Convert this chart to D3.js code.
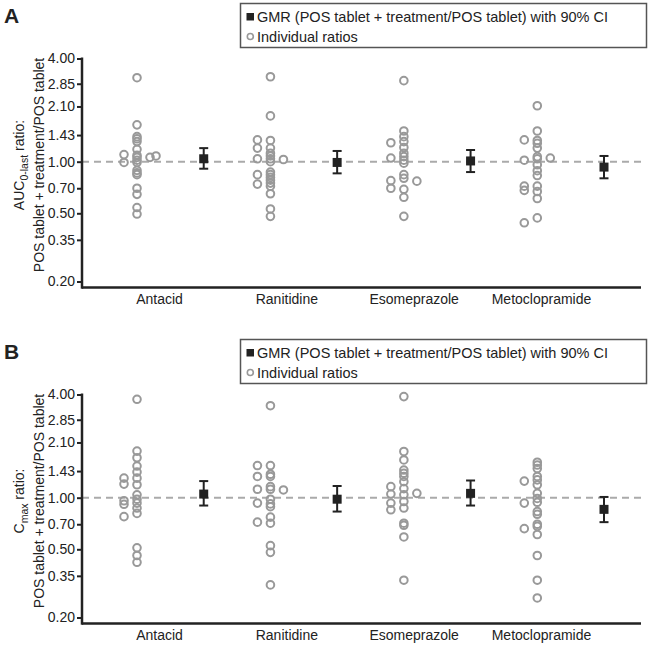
<!DOCTYPE html>
<html>
<head>
<meta charset="utf-8">
<script src="https://cdn.jsdelivr.net/npm/d3@7"></script>
<style>
  html, body { margin: 0; padding: 0; background: #fff; }
  svg { display: block; font-family: "Liberation Sans", Arial, sans-serif; }
</style>
</head>
<body>
<svg id="chart" width="650" height="648"></svg>
<script>
// ---------- data ----------
const categories = ["Antacid", "Ranitidine", "Esomeprazole", "Metoclopramide"];
const yTicks = [0.20, 0.35, 0.50, 0.70, 1.00, 1.43, 2.10, 2.85, 4.00];
const legendGMR = "GMR (POS tablet + treatment/POS tablet) with 90% CI";
const legendInd = "Individual ratios";

// Panel A: AUC0-last individual ratios (main column, left / right offsets)
const aucMid = [
  [3.09, 1.64, 1.40, 1.36, 1.31, 1.18, 1.09, 1.06, 1.02, 0.99, 0.89, 0.86, 0.84, 0.70, 0.645, 0.54, 0.495],
  [3.13, 1.85, 1.33, 1.20, 1.12, 1.08, 1.04, 1.00, 0.87, 0.84, 0.81, 0.78, 0.75, 0.72, 0.65, 0.53, 0.48],
  [2.97, 1.51, 1.40, 1.31, 1.21, 1.12, 1.07, 1.02, 0.98, 0.84, 0.80, 0.69, 0.62, 0.48],
  [2.12, 1.51, 1.33, 1.28, 1.20, 1.07, 1.04, 0.96, 0.886, 0.83, 0.72, 0.67, 0.61, 0.47]
];
const aucLeft = [
  [1.10, 0.99],
  [1.34, 1.20, 1.04, 0.84, 0.74],
  [1.29, 1.05, 0.775, 0.70],
  [1.34, 1.02, 0.72, 0.68, 0.44]
];
const aucRight = [[1.06], [1.03], [0.77], [1.05]];
const aucRight2 = [[1.08], [], [], []];
const aucGMR = [1.04, 0.99, 1.01, 0.93];
const aucLo  = [0.91, 0.855, 0.87, 0.80];
const aucHi  = [1.20, 1.155, 1.17, 1.08];

// Panel B: Cmax individual ratios
const cmaxMid = [
  [3.75, 1.87, 1.71, 1.53, 1.41, 1.30, 1.19, 1.04, 0.98, 0.93, 0.87, 0.81, 0.51, 0.46, 0.42],
  [3.44, 1.54, 1.37, 1.33, 1.16, 1.12, 0.98, 0.92, 0.886, 0.77, 0.71, 0.525, 0.48, 0.31],
  [3.89, 1.86, 1.66, 1.45, 1.39, 1.33, 1.24, 1.13, 1.04, 0.95, 0.87, 0.71, 0.69, 0.59, 0.33],
  [1.61, 1.55, 1.48, 1.33, 1.27, 1.19, 1.06, 0.99, 0.94, 0.83, 0.80, 0.70, 0.68, 0.61, 0.46, 0.33, 0.26]
];
const cmaxLeft = [
  [1.30, 1.20, 0.96, 0.915, 0.775],
  [1.54, 1.33, 1.12, 0.93, 0.72],
  [1.16, 1.05, 0.93, 0.85],
  [1.25, 0.93, 0.66]
];
const cmaxRight = [[], [1.11], [1.06], []];
const cmaxRight2 = [[], [], [], []];
const cmaxGMR = [1.05, 0.98, 1.06, 0.855];
const cmaxLo  = [0.90, 0.83, 0.90, 0.72];
const cmaxHi  = [1.25, 1.17, 1.26, 1.01];

// ---------- drawing ----------
const svg = d3.select("#chart");
const axisX0 = 82, axisX1 = 641;
const textColor = "#222";
const ptColor = "#999";

// x positions: index 2i = individual column, 2i+1 = GMR
const x = d3.scaleLinear().domain([0, 7]).range([137, 604]);
const xLab = d3.scalePoint().domain(categories).range([159, 541]);

function drawPanel(off, letter, titleMain, titleSub, titleRest, mid, left, right, right2, gmr, lo, hi) {
  const g = svg.append("g").attr("transform", `translate(0,${off})`);
  const y = d3.scaleLog().domain([0.2, 4]).range([281.5, 58.5]);
  const baseY = 287.5;

  // panel letter
  g.append("text").attr("x", 4).attr("y", 23).attr("font-size", 21).attr("font-weight", "bold")
    .attr("fill", textColor).text(letter);

  // legend
  const lg = g.append("g");
  lg.append("rect").attr("x", 240.5).attr("y", 3.5).attr("width", 406).attr("height", 44)
    .attr("fill", "#fff").attr("stroke", "#555").attr("stroke-width", 1.5);
  lg.append("rect").attr("x", 246.5).attr("y", 13).attr("width", 7.5).attr("height", 7.5).attr("fill", "#222");
  lg.append("text").attr("x", 257).attr("y", 22).attr("font-size", 14.5).attr("fill", textColor).text(legendGMR);
  lg.append("circle").attr("cx", 250.3).attr("cy", 36.5).attr("r", 3).attr("fill", "none")
    .attr("stroke", ptColor).attr("stroke-width", 1.6);
  lg.append("text").attr("x", 257).attr("y", 41.5).attr("font-size", 14.5).attr("fill", textColor).text(legendInd);

  // y axis title
  const cy = 165;
  const t1 = g.append("text").attr("transform", `translate(24,${cy}) rotate(-90)`)
    .attr("text-anchor", "middle").attr("font-size", 14).attr("fill", textColor);
  t1.append("tspan").text(titleMain);
  t1.append("tspan").attr("font-size", 10.5).attr("dy", 4).text(titleSub);
  t1.append("tspan").attr("dy", -4).text(titleRest);
  g.append("text").attr("transform", `translate(43.5,${cy}) rotate(-90)`)
    .attr("text-anchor", "middle").attr("font-size", 14).attr("fill", textColor)
    .text("POS tablet + treatment/POS tablet");

  // reference dashed line at 1.00
  g.append("line").attr("x1", axisX0).attr("x2", axisX1).attr("y1", y(1)).attr("y2", y(1))
    .attr("stroke", "#aaa").attr("stroke-width", 2).attr("stroke-dasharray", "7,5");

  // y axis
  const ya = g.append("g").attr("transform", `translate(${axisX0},0)`)
    .call(d3.axisLeft(y).tickValues(yTicks).tickFormat(d3.format(".2f")).tickSize(5).tickSizeOuter(0).tickPadding(2));
  ya.select(".domain").remove();
  ya.selectAll(".tick line").attr("stroke", "#222").attr("stroke-width", 2);
  ya.selectAll(".tick text").attr("font-size", 14).attr("fill", textColor)
    .attr("font-family", "Liberation Sans, Arial, sans-serif");
  g.append("line").attr("x1", axisX0).attr("x2", axisX0).attr("y1", y(4) - 1).attr("y2", baseY + 1.2)
    .attr("stroke", "#222").attr("stroke-width", 2.5);

  // x axis
  g.append("line").attr("x1", axisX0).attr("x2", axisX1).attr("y1", baseY).attr("y2", baseY)
    .attr("stroke", "#222").attr("stroke-width", 2.5);
  const xa = g.append("g").attr("transform", `translate(0,${baseY})`)
    .call(d3.axisBottom(xLab).tickSize(0).tickPadding(7));
  xa.select(".domain").remove();
  xa.selectAll(".tick text").attr("font-size", 14).attr("fill", textColor)
    .attr("font-family", "Liberation Sans, Arial, sans-serif");

  // individual points
  const pts = [];
  categories.forEach((c, i) => {
    mid[i].forEach(v => pts.push({ v, cx: x(2 * i) }));
    left[i].forEach(v => pts.push({ v, cx: x(2 * i) - 13 }));
    right[i].forEach(v => pts.push({ v, cx: x(2 * i) + 13 }));
    right2[i].forEach(v => pts.push({ v, cx: x(2 * i) + 19 }));
  });
  g.append("g").selectAll("circle").data(pts).join("circle")
    .attr("cx", d => d.cx).attr("cy", d => y(d.v)).attr("r", 3.8)
    .attr("fill", "none").attr("stroke", ptColor).attr("stroke-width", 2);

  // GMR with 90% CI
  const gm = g.append("g").selectAll("g").data(categories).join("g");
  gm.append("line").attr("x1", (d, i) => x(2 * i + 1)).attr("x2", (d, i) => x(2 * i + 1))
    .attr("y1", (d, i) => y(lo[i])).attr("y2", (d, i) => y(hi[i])).attr("stroke", "#222").attr("stroke-width", 2);
  [lo, hi].forEach(arr => {
    gm.append("line").attr("x1", (d, i) => x(2 * i + 1) - 4.5).attr("x2", (d, i) => x(2 * i + 1) + 4.5)
      .attr("y1", (d, i) => y(arr[i])).attr("y2", (d, i) => y(arr[i])).attr("stroke", "#222").attr("stroke-width", 2);
  });
  gm.append("rect").attr("x", (d, i) => x(2 * i + 1) - 4.5).attr("y", (d, i) => y(gmr[i]) - 4.5)
    .attr("width", 9).attr("height", 9).attr("fill", "#222");
}

drawPanel(0, "A", "AUC", "0-last", " ratio:", aucMid, aucLeft, aucRight, aucRight2, aucGMR, aucLo, aucHi);
drawPanel(336, "B", "C", "max", " ratio:", cmaxMid, cmaxLeft, cmaxRight, cmaxRight2, cmaxGMR, cmaxLo, cmaxHi);
</script>
</body>
</html>
